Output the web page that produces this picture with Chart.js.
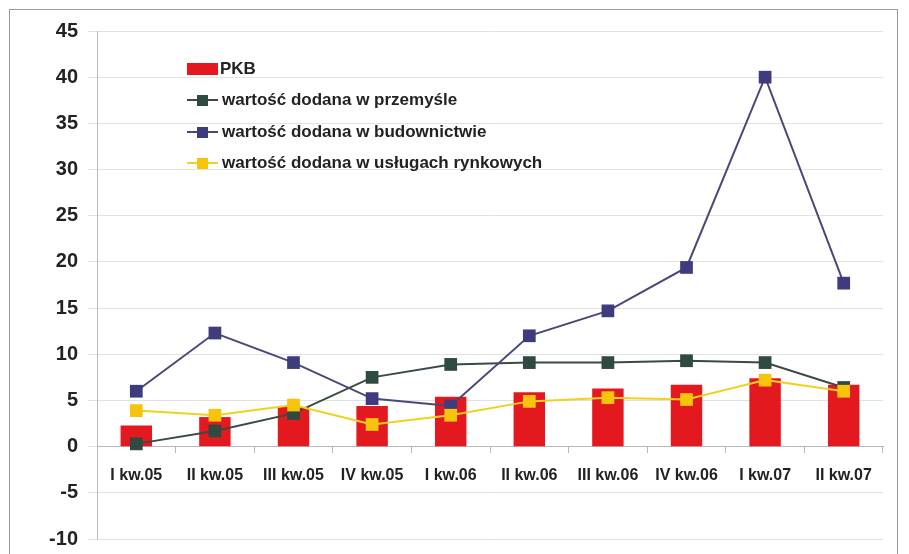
<!DOCTYPE html>
<html>
<head>
<meta charset="utf-8">
<script src="https://cdn.jsdelivr.net/npm/chart.js@4/dist/chart.umd.min.js"></script>
<style>
  html, body { margin: 0; padding: 0; background: #fff; }
  #wrap { position: relative; width: 909px; height: 554px; overflow: hidden; }
  #frame { position: absolute; left: 9px; top: 9px; width: 887px; height: 600px; border: 1px solid #9a9a9a; }
  canvas { position: absolute; left: 0; top: 0; }
</style>
</head>
<body>
<div id="wrap">
  <div id="frame"></div>
  <canvas id="chart" width="909" height="561"></canvas>
</div>
<script>
// Kwartały
const categories = ['I kw.05', 'II kw.05', 'III kw.05', 'IV kw.05', 'I kw.06', 'II kw.06', 'III kw.06', 'IV kw.06', 'I kw.07', 'II kw.07'];

// Serie
const pkb = [2.3, 3.2, 4.3, 4.4, 5.4, 5.9, 6.3, 6.7, 7.4, 6.7];
const przemysl = [0.3, 1.7, 3.6, 7.5, 8.9, 9.1, 9.1, 9.3, 9.1, 6.4];
const budownictwo = [6.0, 12.3, 9.1, 5.2, 4.4, 12.0, 14.7, 19.4, 40.0, 17.7];
const uslugi = [3.9, 3.4, 4.5, 2.4, 3.4, 4.9, 5.3, 5.1, 7.2, 6.0];

const seriesNames = ['PKB', 'wartość dodana w przemyśle', 'wartość dodana w budownictwie', 'wartość dodana w usługach rynkowych'];

// Oś Y
const yMin = -10;
const yMax = 45;
const yStep = 5;

const RED = '#e4191f';
const GREEN = '#2f4a3e';
const NAVY = '#3e3c7c';
const YELLOW = '#f6c40c';

// Legenda wewnątrz obszaru wykresu
const legendPlugin = {
    id: 'insideLegend',
    afterDraw(chart) {
        const ctx = chart.ctx;
        const x0 = 187;
        const rows = [69, 100, 132, 163];
        ctx.save();
        ctx.font = 'bold 17px "Liberation Sans", Arial, sans-serif';
        ctx.textBaseline = 'middle';
        chart.data.datasets.forEach((ds, i) => {
            const y = rows[i];
            if (ds.type === 'bar') {
                ctx.fillStyle = ds.backgroundColor;
                ctx.fillRect(x0, y - 6, 31, 12);
            } else {
                ctx.strokeStyle = ds.borderColor;
                ctx.lineWidth = 2;
                ctx.beginPath();
                ctx.moveTo(x0, y);
                ctx.lineTo(x0 + 31, y);
                ctx.stroke();
                ctx.fillStyle = ds.pointBackgroundColor;
                ctx.fillRect(x0 + 10, y - 5, 11, 11);
            }
            ctx.fillStyle = '#222';
            ctx.fillText(ds.label, i === 0 ? x0 + 33 : x0 + 35, y);
        });
        ctx.restore();
    }
};

const lineDs = (label, data, lineColor, pointColor, order) => ({
    type: 'line',
    label: label,
    data: data,
    borderColor: lineColor,
    borderWidth: 2,
    pointStyle: 'rect',
    pointRadius: 9,
    pointBackgroundColor: pointColor,
    pointBorderColor: pointColor,
    pointBorderWidth: 0,
    tension: 0,
    order: order
});

new Chart(document.getElementById('chart'), {
    type: 'bar',
    data: {
        labels: categories,
        datasets: [
            {
                type: 'bar',
                label: seriesNames[0],
                data: pkb,
                backgroundColor: RED,
                barPercentage: 0.4,
                categoryPercentage: 1.0,
                order: 10
            },
            lineDs(seriesNames[1], przemysl, '#3b4a44', GREEN, 3),
            lineDs(seriesNames[2], budownictwo, '#4a4878', NAVY, 2),
            lineDs(seriesNames[3], uslugi, '#f0d21e', YELLOW, 1)
        ]
    },
    options: {
        responsive: false,
        animation: false,
        layout: { padding: { top: 31, right: 26, bottom: 0, left: 0 } },
        plugins: {
            legend: { display: false },
            tooltip: { enabled: false }
        },
        scales: {
            x: {
                position: { y: 0 },
                grid: { offset: true, drawOnChartArea: false, tickLength: 6, color: '#b8b8b8' },
                border: { color: '#b8b8b8' },
                ticks: {
                    color: '#222',
                    padding: 13,
                    maxRotation: 0,
                    font: { family: '"Liberation Sans", Arial, sans-serif', weight: 'bold', size: 16 }
                }
            },
            y: {
                min: yMin,
                max: yMax,
                afterFit(scale) { scale.width = 97; },
                grid: { color: '#e2e2e2', tickLength: 9 },
                border: { color: '#b8b8b8' },
                ticks: {
                    stepSize: yStep,
                    color: '#222',
                    padding: 10,
                    font: { family: '"Liberation Sans", Arial, sans-serif', weight: 'bold', size: 20 }
                }
            }
        }
    },
    plugins: [legendPlugin]
});
</script>
</body>
</html>
